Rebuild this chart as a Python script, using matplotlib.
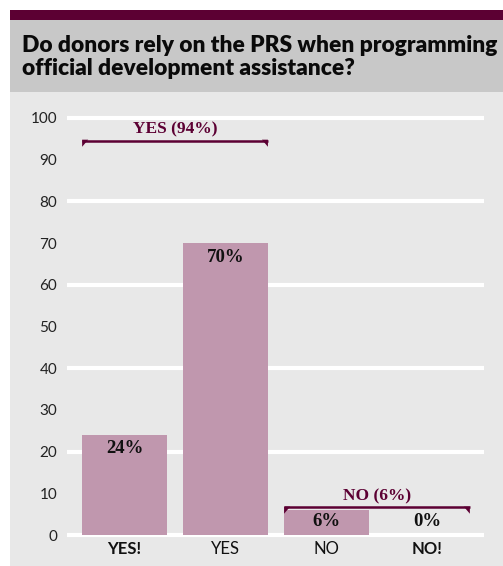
import matplotlib.pyplot as plt
from matplotlib.patches import Rectangle

# data
categories = ["YES!", "YES", "NO", "NO!"]
values = [24, 70, 6, 0]
bold_cat = [True, False, False, True]
groups = [("YES (94%)", 0, 1, 94), ("NO (6%)", 2, 3, 6)]
title = "Do donors rely on the PRS when programming\nofficial development assistance?"

maroon = "#5c0033"
bar_col = "#c097ae"
W, H = 503, 566

fig = plt.figure(figsize=(W / 100, H / 100), dpi=100)
fig.patch.set_facecolor("white")

def px_rect(x0, y0, x1, y1, col):
    fig.add_artist(Rectangle((x0 / W, 1 - y1 / H), (x1 - x0) / W, (y1 - y0) / H,
                             transform=fig.transFigure, color=col, lw=0, zorder=0))

px_rect(10, 10, W, 20, maroon)
px_rect(10, 20, W, 92, "#c8c8c8")
px_rect(10, 92, W, H, "#e8e8e8")

fig.text(22 / W, 1 - 57 / H, title, fontsize=16.4, fontweight="heavy", family="Lato",
         color="#0a0a0a", va="center", ha="left", linespacing=1.08)

# axes: value 0 at y=535px, 100 at y=118px
ppu = (535 - 118) / 100
ymin, ymax = -2, 102
ax_bot = 535 + 2 * ppu
ax_top = 118 - 2 * ppu
ax = fig.add_axes([67 / W, 1 - ax_bot / H, 417 / W, (ax_bot - ax_top) / H])
ax.set_facecolor("none")
ax.set_ylim(ymin, ymax)
ax.set_xlim(-0.57, 3.56)
for s in ax.spines.values():
    s.set_visible(False)

for g in range(0, 101, 20):
    ax.axhline(g, color="white", lw=3, zorder=1)

width = 0.84
x = list(range(len(categories)))
ax.bar(x, values, width=width, color=bar_col, zorder=2)

ax.set_yticks(range(0, 101, 10))
ax.set_yticklabels([str(v) for v in range(0, 101, 10)], family="Lato", fontsize=11,
                   color="#222222")
ax.tick_params(axis="y", length=0, pad=7)
ax.set_xticks([])

for xi, c, b in zip(x, categories, bold_cat):
    ax.text(xi, -3.3, c, ha="center", va="center", family="Lato", fontsize=12,
            fontweight="bold" if b else "normal", color="#111111", clip_on=False)

for xi, v in zip(x, values):
    ypos = v - 1.3 if v > 10 else 5.2
    ax.text(xi, ypos, f"{v}%", ha="center", va="top", family="Liberation Serif",
            fontsize=13.5, fontweight="bold", color="#111111", zorder=3)

for lab, a, b, v in groups:
    x0 = a - width / 2
    x1 = b + width / 2
    ax.plot([x0, x1], [v + 0.6, v + 0.6], color=maroon, lw=1.8, zorder=4,
            solid_capstyle="butt", clip_on=False)
    ax.fill([x0, x0 + 0.06, x0], [v + 0.8, v + 0.8, v - 0.9], color=maroon, lw=0, zorder=4)
    ax.fill([x1, x1 - 0.06, x1], [v + 0.8, v + 0.8, v - 0.9], color=maroon, lw=0, zorder=4)
    ax.text((x0 + x1) / 2, v + 1.3, lab, ha="center", va="bottom",
            family="Liberation Serif", fontsize=12.5, fontweight="bold", color=maroon,
            zorder=4)

fig.savefig("out.png", dpi=100)
